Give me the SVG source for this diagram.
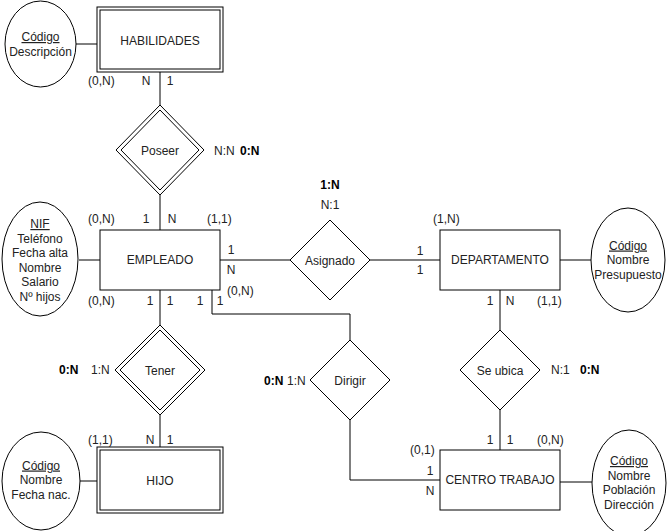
<svg xmlns="http://www.w3.org/2000/svg" width="671" height="531" viewBox="0 0 671 531">
  <style>
    .shape { fill: #fff; stroke: #000; stroke-width: 1; }
    .edge { fill: none; stroke: #000; stroke-width: 1; }
    text { font-family: "Liberation Sans", Arial, Helvetica, sans-serif; font-size: 12px; fill: #222; }
    .c { text-anchor: middle; }
    .b { font-weight: bold; fill: #000; }
    .u { text-decoration: underline; }
  </style>
  <rect width="671" height="531" fill="#fff"/>

  <!-- connectors -->
  <g id="connectors">
    <line class="edge" x1="76" y1="44" x2="97" y2="44"/>
    <line class="edge" x1="160" y1="72" x2="160" y2="105"/>
    <line class="edge" x1="160" y1="195" x2="160" y2="230"/>
    <line class="edge" x1="79" y1="260" x2="100" y2="260"/>
    <line class="edge" x1="220" y1="260" x2="290" y2="260"/>
    <line class="edge" x1="370" y1="260" x2="440" y2="260"/>
    <line class="edge" x1="560" y1="260" x2="591" y2="260"/>
    <line class="edge" x1="500" y1="290" x2="500" y2="330"/>
    <line class="edge" x1="500" y1="410" x2="500" y2="450"/>
    <line class="edge" x1="560" y1="482" x2="592" y2="482"/>
    <line class="edge" x1="160" y1="290" x2="160" y2="325"/>
    <line class="edge" x1="160" y1="415" x2="160" y2="447"/>
    <line class="edge" x1="79" y1="481" x2="97" y2="481"/>
    <polyline class="edge" points="212,290 212,314 350,314 350,340"/>
    <polyline class="edge" points="350,420 350,480 440,480"/>
  </g>

  <!-- attribute ellipses -->
  <g id="attr-habilidades">
    <ellipse class="shape" cx="40.5" cy="44" rx="35.5" ry="43"/>
    <text class="c u" x="40.5" y="41">Código</text>
    <text class="c" x="40.5" y="55.5">Descripción</text>
  </g>
  <g id="attr-empleado">
    <ellipse class="shape" cx="40" cy="259" rx="38" ry="57"/>
    <text class="c u" x="40" y="228">NIF</text>
    <text class="c" x="40" y="242.5">Teléfono</text>
    <text class="c" x="40" y="257">Fecha alta</text>
    <text class="c" x="40" y="271.5">Nombre</text>
    <text class="c" x="40" y="286">Salario</text>
    <text class="c" x="40" y="300.5">Nº hijos</text>
  </g>
  <g id="attr-departamento">
    <ellipse class="shape" cx="628" cy="260" rx="37" ry="52"/>
    <text class="c u" x="628" y="249.5">Código</text>
    <text class="c" x="628" y="264">Nombre</text>
    <text class="c" x="628" y="278.5">Presupuesto</text>
  </g>
  <g id="attr-hijo">
    <ellipse class="shape" cx="41" cy="481" rx="39" ry="49"/>
    <text class="c u" x="41" y="469.5">Código</text>
    <text class="c" x="41" y="484">Nombre</text>
    <text class="c" x="41" y="498.5">Fecha nac.</text>
  </g>
  <g id="attr-centro">
    <ellipse class="shape" cx="629" cy="483" rx="37" ry="53"/>
    <text class="c u" x="629" y="465">Código</text>
    <text class="c" x="629" y="479.5">Nombre</text>
    <text class="c" x="629" y="494">Población</text>
    <text class="c" x="629" y="508.5">Dirección</text>
  </g>

  <!-- entities -->
  <g id="habilidades">
    <rect class="shape" x="97" y="7" width="126" height="65"/>
    <rect class="shape" x="100" y="10" width="120" height="59"/>
    <text class="c" x="160" y="45">HABILIDADES</text>
  </g>
  <g id="empleado">
    <rect class="shape" x="100" y="230" width="120" height="60"/>
    <text class="c" x="160" y="264">EMPLEADO</text>
  </g>
  <g id="departamento">
    <rect class="shape" x="440" y="230" width="120" height="60"/>
    <text class="c" x="500" y="264">DEPARTAMENTO</text>
  </g>
  <g id="hijo">
    <rect class="shape" x="97" y="447" width="126" height="66"/>
    <rect class="shape" x="100" y="450" width="120" height="60"/>
    <text class="c" x="160" y="485">HIJO</text>
  </g>
  <g id="centro-trabajo">
    <rect class="shape" x="440" y="450" width="120" height="60"/>
    <text class="c" x="500" y="484">CENTRO TRABAJO</text>
  </g>

  <!-- relationships -->
  <g id="poseer">
    <polygon class="shape" points="160,105 204,150 160,195 116,150"/>
    <polygon class="shape" points="160,110 199,150 160,190 121,150"/>
    <text class="c" x="160" y="155">Poseer</text>
  </g>
  <g id="asignado">
    <polygon class="shape" points="330,220 370,260 330,300 290,260"/>
    <text class="c" x="330" y="265">Asignado</text>
  </g>
  <g id="tener">
    <polygon class="shape" points="160,325 205,370 160,415 115,370"/>
    <polygon class="shape" points="160,330 200,370 160,410 120,370"/>
    <text class="c" x="160" y="375">Tener</text>
  </g>
  <g id="dirigir">
    <polygon class="shape" points="350,340 390,380 350,420 310,380"/>
    <text class="c" x="350" y="385">Dirigir</text>
  </g>
  <g id="se-ubica">
    <polygon class="shape" points="500,330 540,370 500,410 460,370"/>
    <text class="c" x="500" y="375">Se ubica</text>
  </g>

  <!-- cardinality labels -->
  <g id="labels">
    <text x="88" y="85">(0,N)</text>
    <text class="c" x="146" y="85">N</text>
    <text class="c" x="170" y="85">1</text>
    <text x="214" y="155">N:N</text>
    <text class="b" x="240" y="155">0:N</text>

    <text x="88" y="223">(0,N)</text>
    <text class="c" x="146" y="223">1</text>
    <text class="c" x="172" y="223">N</text>
    <text x="207" y="223">(1,1)</text>
    <text class="c" x="231" y="254">1</text>
    <text class="c" x="231" y="274">N</text>
    <text x="227" y="295">(0,N)</text>
    <text x="88" y="305">(0,N)</text>
    <text class="c" x="150" y="305">1</text>
    <text class="c" x="170" y="305">1</text>
    <text class="c" x="200" y="305">1</text>
    <text class="c" x="220" y="305">1</text>

    <text class="c b" x="330" y="189">1:N</text>
    <text class="c" x="330" y="209">N:1</text>
    <text class="c" x="420" y="255">1</text>
    <text class="c" x="420" y="274">1</text>
    <text x="433" y="223">(1,N)</text>
    <text class="c" x="490" y="305">1</text>
    <text class="c" x="510" y="305">N</text>
    <text x="537" y="305">(1,1)</text>

    <text x="551" y="374">N:1</text>
    <text class="b" x="580" y="374">0:N</text>

    <text class="b" x="59" y="374">0:N</text>
    <text x="91" y="374">1:N</text>
    <text x="88" y="444">(1,1)</text>
    <text class="c" x="150" y="444">N</text>
    <text class="c" x="170" y="444">1</text>

    <text class="b" x="264" y="385">0:N</text>
    <text x="287" y="385">1:N</text>

    <text class="c" x="490" y="444">1</text>
    <text class="c" x="510" y="444">1</text>
    <text x="537" y="444">(0,N)</text>
    <text x="410" y="454">(0,1)</text>
    <text class="c" x="430" y="475">1</text>
    <text class="c" x="430" y="495">N</text>
  </g>
</svg>
